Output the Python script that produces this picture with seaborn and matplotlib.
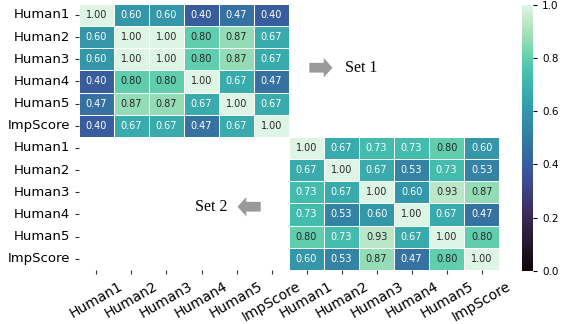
import numpy as np
import pandas as pd
import matplotlib
matplotlib.use("Agg")
import matplotlib.pyplot as plt
import seaborn as sns

labels = ["Human1", "Human2", "Human3", "Human4", "Human5", "ImpScore"]

set1 = [
    [1.00, 0.60, 0.60, 0.40, 0.47, 0.40],
    [0.60, 1.00, 1.00, 0.80, 0.87, 0.67],
    [0.60, 1.00, 1.00, 0.80, 0.87, 0.67],
    [0.40, 0.80, 0.80, 1.00, 0.67, 0.47],
    [0.47, 0.87, 0.87, 0.67, 1.00, 0.67],
    [0.40, 0.67, 0.67, 0.47, 0.67, 1.00],
]

set2 = [
    [1.00, 0.67, 0.73, 0.73, 0.80, 0.60],
    [0.67, 1.00, 0.67, 0.53, 0.73, 0.53],
    [0.73, 0.67, 1.00, 0.60, 0.93, 0.87],
    [0.73, 0.53, 0.60, 1.00, 0.67, 0.47],
    [0.80, 0.73, 0.93, 0.67, 1.00, 0.80],
    [0.60, 0.53, 0.87, 0.47, 0.80, 1.00],
]

# Block-diagonal layout: Set 1 top-left, Set 2 bottom-right, rest empty
n = len(labels)
grid = np.full((2 * n, 2 * n), np.nan)
grid[:n, :n] = np.array(set1)
grid[n:, n:] = np.array(set2)
df = pd.DataFrame(grid, index=labels + labels, columns=labels + labels)

fig = plt.figure(figsize=(5.64, 3.24), dpi=100)
ax = fig.add_axes([0.140, 0.167, 0.745, 0.821])
cax = fig.add_axes([0.925, 0.164, 0.020, 0.821])

sns.heatmap(df, ax=ax, cbar_ax=cax, cmap="mako", vmin=0, vmax=1,
            annot=True, fmt=".2f", annot_kws={"size": 7},
            linewidths=0.7, linecolor="white", square=False)

ax.set_xticklabels(ax.get_xticklabels(), rotation=30, ha="center", fontsize=10)
ax.set_yticklabels(ax.get_yticklabels(), rotation=0, fontsize=9.5)
ax.tick_params(axis="both", length=3, color="#333333")

cax.tick_params(labelsize=7.5, length=3)
cax.set_yticks([0.0, 0.2, 0.4, 0.6, 0.8, 1.0])

# Set markers with block arrows
arrow_kw = dict(arrowstyle="simple,head_length=0.45,head_width=1.0,tail_width=0.5",
                color="#999999", lw=0, mutation_scale=14)
ax.annotate("", xy=(7.32, 2.88), xytext=(6.5, 2.88), arrowprops=arrow_kw,
            annotation_clip=False)
ax.text(7.6, 2.88, "Set 1", fontsize=11.5, family="Liberation Serif",
        va="center", ha="left")
ax.annotate("", xy=(4.45, 9.15), xytext=(5.27, 9.15), arrowprops=arrow_kw,
            annotation_clip=False)
ax.text(4.25, 9.15, "Set 2", fontsize=11.5, family="Liberation Serif",
        va="center", ha="right")

fig.savefig("out.png", dpi=100)
